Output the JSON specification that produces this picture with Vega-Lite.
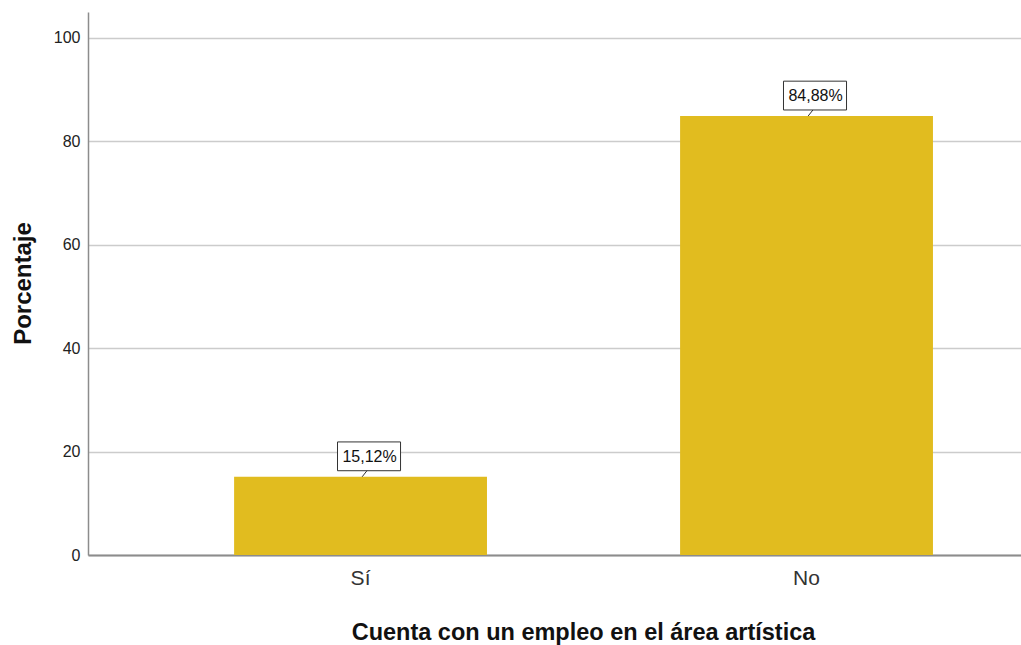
{
  "$schema": "https://vega.github.io/schema/vega-lite/v6.json",
  "width": 933,
  "height": 543,
  "autosize": "none",
  "padding": {"left": 88, "top": 12, "right": 0, "bottom": 90},
  "background": "white",
  "config": {"view": {"stroke": null}, "font": "Liberation Sans"},
  "data": {"values": [
    {"cat": "Sí", "pct": 15.12, "label": "15,12%"},
    {"cat": "No", "pct": 84.88, "label": "84,88%"}
  ]},
  "encoding": {
    "x": {
      "field": "cat", "type": "nominal", "sort": ["Sí", "No"],
      "scale": {"paddingInner": 0.433, "paddingOuter": 0.2625, "align": 0.624},
      "axis": {
        "title": "Cuenta con un empleo en el área artística",
        "labelAngle": 0, "labelFontSize": 21, "labelColor": "#333333", "labelPadding": 12,
        "tickSize": 0, "domainColor": "#8c8c8c", "domainWidth": 2,
        "titleFontSize": 23.5, "titleFontWeight": "bold", "titleColor": "#111111",
        "titleX": 495, "titleY": 84, "titleBaseline": "alphabetic", "titleAnchor": "middle", "titleAlign": "center"
      }
    },
    "y": {
      "field": "pct", "type": "quantitative",
      "scale": {"domain": [0, 105], "nice": false},
      "axis": {
        "title": "Porcentaje", "values": [0, 20, 40, 60, 80, 100],
        "labelFontSize": 16, "labelColor": "#222222", "labelPadding": 8,
        "tickSize": 0, "domainColor": "#8c8c8c", "domainWidth": 1.5,
        "grid": true, "gridColor": "#cccccc", "gridWidth": 1.5,
        "titleFontSize": 24, "titleFontWeight": "bold", "titleColor": "#111111",
        "titleX": -53, "titleY": 271, "titleAngle": -90, "titleBaseline": "bottom", "titleAlign": "center"
      }
    }
  },
  "layer": [
    {"mark": {"type": "bar", "color": "#e1bc1f"}},
    {"mark": {
      "type": "point", "filled": false, "fill": "white", "fillOpacity": 1,
      "stroke": "#333333", "strokeWidth": 1, "opacity": 1, "size": 4096,
      "shape": "M-0.72,-1.09L1.25,-1.09L1.25,-0.19L-0.72,-0.19Z M0.2,-0.19L0.05,0"
    }},
    {"mark": {"type": "text", "fontSize": 16, "color": "#111111", "dx": 9, "dy": -20, "baseline": "middle", "align": "center"},
     "encoding": {"text": {"field": "label"}}}
  ]
}
